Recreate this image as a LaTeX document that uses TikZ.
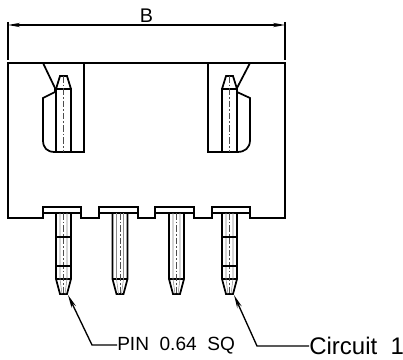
\documentclass[tikz,border=0pt]{standalone}
\usepackage{fontspec}
\setmainfont{Liberation Sans}
\usetikzlibrary{arrows.meta, positioning, calc}
\tikzset{
  outline/.style={line width=1.3pt, black},
  thinline/.style={line width=0.4pt, black!45},
  centerline/.style={line width=0.5pt, black!70, dash pattern=on 5pt off 1.5pt on 1.2pt off 1.5pt},
  dimline/.style={line width=0.9pt, black, {Stealth[length=9pt, width=3.2pt]}-{Stealth[length=9pt, width=3.2pt]}},
  leaderline/.style={line width=1pt, black, {Stealth[length=10pt, width=3.6pt]}-},
  pinlabel/.style={inner sep=0pt, anchor=west, font=\fontsize{14.3}{14.3}\selectfont},
  circuitlabel/.style={inner sep=0pt, anchor=west, font=\fontsize{18}{18}\selectfont}
}

\begin{document}
\begin{tikzpicture}[x=0.75pt, y=-0.75pt]
  \useasboundingbox (0,0) rectangle (403,360);

  % Dimension
  \coordinate (dimL) at (8,25);
  \coordinate (dimR) at (285,25);
  \draw[outline] (8,22) -- (8,60);
  \draw[outline] (285,22) -- (285,60);
  \draw[dimline] (dimL) -- (dimR);
  \node[inner sep=0pt, font=\fontsize{14.8}{14.8}\selectfont] (dimB) at (146.5,16) {B};

  % Housing
  \draw[outline] (8,63) -- (285,63) -- (285,218) -- (250,218) -- (250,207) -- (212,207) -- (212,218)
    -- (194,218) -- (194,207) -- (155,207) -- (155,218) -- (138,218) -- (138,207) -- (99,207)
    -- (99,218) -- (81,218) -- (81,207) -- (43,207) -- (43,218) -- (8,218) -- cycle;
  \foreach \a/\b in {43/81, 99/138, 155/194, 212/250} {
    \draw[outline] (\a,213) -- (\b,213);
  }

  % Latches
  \draw[outline] (84,63) -- (84,152) -- (55,152) .. controls (47,152) and (43,148) .. (43,140)
    -- (43,98) -- (55,92) -- (55,88) -- (43,63);
  \draw[outline] (208,63) -- (208,152) -- (237,152) .. controls (245,152) and (250,148) .. (250,140)
    -- (250,98) -- (237,92) -- (237,88) -- (250,63);

  % Upper pins
  \foreach \c in {63.5, 229.5} {
    \draw[outline] (\c-7.5,152) -- (\c-7.5,89) -- (\c+7.5,89) -- (\c+7.5,152);
    \draw[outline] (\c-7.5,89) -- (\c-3.5,76) -- (\c+3.5,76) -- (\c+7.5,89);
    \draw[centerline] (\c,76) -- (\c,152);
  }

  % Lower pins
  \foreach \c in {63.5, 120, 176.5, 229.5} {
    \draw[outline] (\c-7.5,213) -- (\c-7.5,279) -- (\c-3.5,294) -- (\c+3.5,294) -- (\c+7.5,279) -- (\c+7.5,213);
    \draw[outline] (\c-7.5,279) -- (\c+7.5,279);
    \draw[thinline] (\c-3.5,213) -- (\c-3.5,279) -- (\c-1.5,294);
    \draw[thinline] (\c+3.5,213) -- (\c+3.5,279) -- (\c+1.5,294);
    \draw[centerline] (\c,213) -- (\c,294);
  }
  \foreach \c in {63.5, 229.5} {
    \draw[outline] (\c-7.5,237) -- (\c+7.5,237);
    \draw[outline] (\c-7.5,266) -- (\c+7.5,266);
  }

  % Leaders
  \node[pinlabel] (pinL) at (117,346) {PIN\ \ 0.64\ \ SQ};
  \node[circuitlabel] (circuitL) at (309,346) {Circuit\ \ 1};
  \coordinate (tipA) at (68,295);
  \coordinate (tipB) at (234,295);
  \draw[leaderline] (tipA) -- (92,345) -- (pinL.west |- 0,345);
  \draw[leaderline] (tipB) -- (257,346) -- (circuitL.west);
\end{tikzpicture}
\end{document}
